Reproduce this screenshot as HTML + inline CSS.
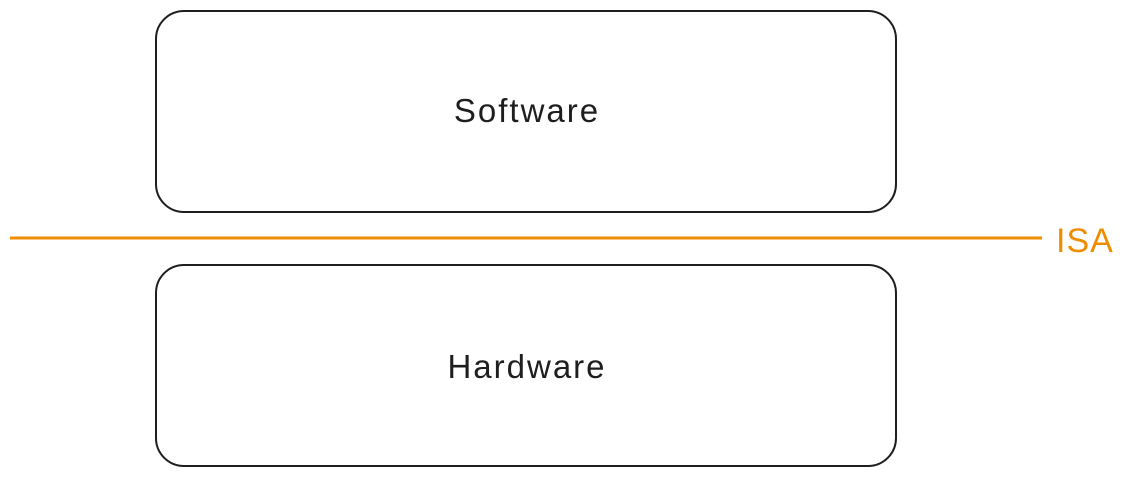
<!DOCTYPE html>
<html><head><meta charset="utf-8"><style>
html,body{margin:0;padding:0;background:#fff;}
body{width:1137px;height:477px;position:relative;overflow:hidden;font-family:"Liberation Sans",sans-serif;}
</style></head><body>
<svg width="1137" height="477" xmlns="http://www.w3.org/2000/svg">
<rect x="156" y="11" width="740" height="201" rx="28" fill="none" stroke="#1e1e1e" stroke-width="2"/>
<rect x="156" y="265" width="740" height="201" rx="28" fill="none" stroke="#1e1e1e" stroke-width="2"/>
<line x1="10" y1="238" x2="1042" y2="238" stroke="#f08c00" stroke-width="3"/>
<text x="527" y="122" font-size="33" fill="#1e1e1e" text-anchor="middle" letter-spacing="2" font-family="Liberation Sans, sans-serif">Software</text>
<text x="527" y="378" font-size="33" fill="#1e1e1e" text-anchor="middle" letter-spacing="2" font-family="Liberation Sans, sans-serif">Hardware</text>
<text x="1056" y="252" font-size="34" fill="#f08c00" letter-spacing="1" font-family="Liberation Sans, sans-serif">ISA</text>
</svg>
</body></html>
